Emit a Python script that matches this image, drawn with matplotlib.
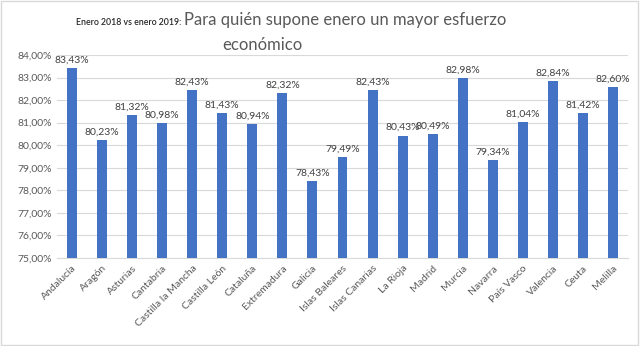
import numpy as np
import matplotlib
matplotlib.use('Agg')
import matplotlib.pyplot as plt
import matplotlib.ticker

plt.rcParams['font.family'] = ['Lato', 'DejaVu Sans']

regions = ['Andalucía', 'Aragón', 'Asturias', 'Cantabria', 'Castilla la Mancha',
           'Castilla León', 'Cataluña', 'Extremadura', 'Galicia', 'Islas Baleares',
           'Islas Canarias', 'La Rioja', 'Madrid', 'Murcia', 'Navarra', 'País Vasco',
           'Valencia', 'Ceuta', 'Melilla']
values = [83.43, 80.23, 81.32, 80.98, 82.43, 81.43, 80.94, 82.32, 78.43, 79.49,
          82.43, 80.43, 80.49, 82.98, 79.34, 81.04, 82.84, 81.42, 82.60]
yticks = [75, 76, 77, 78, 79, 80, 81, 82, 83, 84]

BAR = '#4472C4'
GREY = '#595959'

fig = plt.figure(figsize=(6.4, 3.46), dpi=100)
ax = fig.add_axes([57 / 640, 1 - 258 / 346, 571 / 640, 203 / 346])

x = np.arange(len(regions))
ax.bar(x, values, width=0.33, color=BAR, zorder=3)
for xi, v in zip(x, values):
    ax.text(xi, v + 0.15, f"{v:.2f}%".replace('.', ','), ha='center', va='bottom',
            fontsize=7.5, color='#404040')

ax.set_ylim(75, 84)
ax.set_xlim(-0.5, len(regions) - 0.5)
ax.set_yticks(yticks)
ax.yaxis.set_major_formatter(matplotlib.ticker.FuncFormatter(
    lambda v, _: f"{v:.2f}%".replace('.', ',')))
ax.set_xticks(x)
ax.set_xticklabels(regions, rotation=45, ha='right', rotation_mode='anchor')
ax.tick_params(axis='both', length=0, labelsize=7.5, colors=GREY)
ax.tick_params(axis='x', pad=4)
ax.grid(True, axis='y', color='#d9d9d9', linewidth=0.8, zorder=0)
for s in ['top', 'right', 'left']:
    ax.spines[s].set_visible(False)
ax.spines['bottom'].set_color('#d9d9d9')

# title
fig.text(181 / 640, 1 - 25 / 346, 'Enero 2018 vs enero 2019:', ha='right', va='baseline',
         fontsize=6.3, color='#262626', fontweight='semibold')
fig.text(184 / 640, 1 - 25 / 346, 'Para quién supone enero un mayor esfuerzo', ha='left',
         va='baseline', fontsize=12, color=GREY)
fig.text(262 / 640, 1 - 50 / 346, 'económico', ha='center', va='baseline',
         fontsize=12, color=GREY)

# outer border
fig.patches.append(plt.Rectangle((0.002, 0.003), 0.995, 0.993, transform=fig.transFigure,
                                 fill=False, edgecolor='#d9d9d9', linewidth=1))

fig.savefig('out.png', dpi=100)
